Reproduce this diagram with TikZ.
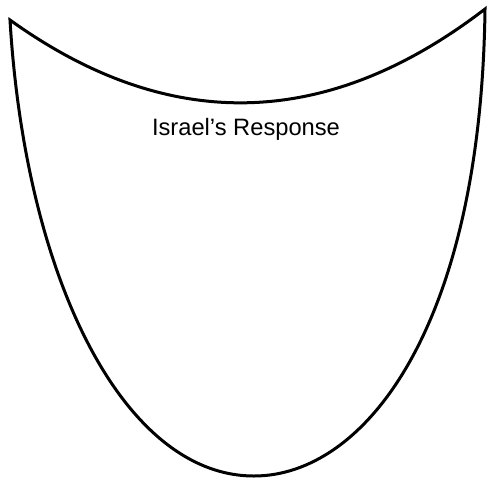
\documentclass[tikz,border=0pt]{standalone}
\usepackage{fontspec}
\setmainfont{Liberation Sans}
\begin{document}
\begin{tikzpicture}[x=1pt,y=-1pt,
  outline/.style={draw=black,line width=3pt,line join=miter},
  label/.style={font=\fontsize{23.7}{28}\selectfont,anchor=base,inner sep=0pt}]
\useasboundingbox (0,0) rectangle (487,479);
\coordinate (tl) at (10,20);
\coordinate (tr) at (485,9);
\coordinate (bt) at (254,476);
\draw[outline] (tl) .. controls (168.7,134) and (327,130.3) .. (tr)
  .. controls (481,329) and (364,476) .. (bt)
  .. controls (124,476) and (25.6,280) .. (tl) -- cycle;
\node[label] (title) at (246,135) {Israel’s Response};
\end{tikzpicture}
\end{document}
